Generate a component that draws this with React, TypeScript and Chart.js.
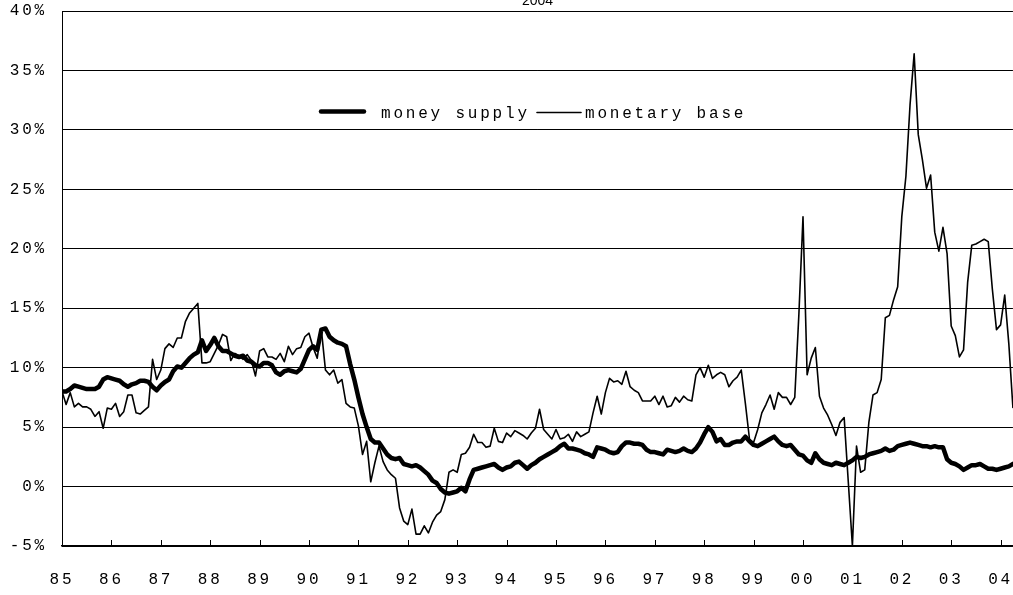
import React, { useEffect, useRef } from 'react';
import { Chart, registerables } from 'chart.js';

Chart.register(...registerables);

const yearLabels = ['85', '86', '87', '88', '89', '90', '91', '92', '93', '94', '95', '96', '97', '98', '99', '00', '01', '02', '03', '04'];

const titleText = '2004';

// monthly, Jan 1985 .. Apr 2004 (% y/y)
const moneySupply = [
  8.0, 8.0, 8.2, 8.5, 8.4, 8.3, 8.2, 8.2, 8.2, 8.4, 9.0, 9.2,
  9.1, 9.0, 8.9, 8.6, 8.4, 8.6, 8.7, 8.9, 8.9, 8.8, 8.4, 8.1,
  8.5, 8.8, 9.0, 9.7, 10.1, 10.0, 10.4, 10.8, 11.1, 11.3, 12.3, 11.4,
  11.9, 12.5, 11.8, 11.4, 11.4, 11.2, 11.0, 10.9, 11.0, 10.6, 10.5, 10.2,
  10.1, 10.4, 10.4, 10.2, 9.6, 9.4, 9.7, 9.8, 9.7, 9.6, 9.9, 10.7,
  11.5, 11.8, 11.5, 13.2, 13.3, 12.6, 12.3, 12.1, 12.0, 11.8, 10.3, 9.0,
  7.5, 6.1, 5.0, 4.0, 3.7, 3.7, 3.2, 2.7, 2.4, 2.3, 2.4, 1.9,
  1.8, 1.7, 1.8, 1.6, 1.3, 1.0, 0.5, 0.3, -0.2, -0.5, -0.6, -0.5,
  -0.4, -0.1, -0.4, 0.6, 1.4, 1.5, 1.6, 1.7, 1.8, 1.9, 1.6, 1.4,
  1.6, 1.7, 2.0, 2.1, 1.8, 1.5, 1.8, 2.0, 2.3, 2.5, 2.7, 2.9,
  3.1, 3.4, 3.6, 3.2, 3.2, 3.1, 3.0, 2.8, 2.7, 2.5, 3.3, 3.2,
  3.1, 2.9, 2.8, 2.9, 3.4, 3.7, 3.7, 3.6, 3.6, 3.5, 3.1, 2.9,
  2.9, 2.8, 2.7, 3.1, 3.0, 2.9, 3.0, 3.2, 3.0, 2.9, 3.2, 3.7,
  4.4, 5.0, 4.6, 3.8, 4.0, 3.5, 3.5, 3.7, 3.8, 3.8, 4.2, 3.8,
  3.5, 3.4, 3.6, 3.8, 4.0, 4.2, 3.8, 3.5, 3.4, 3.5, 3.1, 2.7,
  2.6, 2.2, 2.0, 2.8, 2.3, 2.0, 1.9, 1.8, 2.0, 1.9, 1.8, 2.0,
  2.2, 2.5, 2.4, 2.5, 2.7, 2.8, 2.9, 3.0, 3.2, 3.0, 3.1, 3.4,
  3.5, 3.6, 3.7, 3.6, 3.5, 3.4, 3.4, 3.3, 3.4, 3.3, 3.3, 2.3,
  2.0, 1.9, 1.7, 1.4, 1.6, 1.8, 1.8, 1.9, 1.7, 1.5, 1.5, 1.4,
  1.5, 1.6, 1.7, 1.9,
];

const monetaryBase = [
  8.0, 6.9, 7.9, 6.7, 7.0, 6.7, 6.7, 6.5, 5.9, 6.3, 4.9, 6.6,
  6.5, 7.0, 5.9, 6.3, 7.7, 7.7, 6.2, 6.1, 6.4, 6.7, 10.7, 9.0,
  9.8, 11.6, 12.0, 11.7, 12.5, 12.5, 13.9, 14.6, 15.0, 15.4, 10.4, 10.4,
  10.5, 11.2, 11.9, 12.8, 12.6, 10.6, 11.2, 11.0, 10.7, 11.1, 10.6, 9.3,
  11.4, 11.6, 10.9, 10.9, 10.7, 11.2, 10.5, 11.8, 11.1, 11.6, 11.7, 12.6,
  12.9, 11.7, 10.8, 13.2, 9.8, 9.4, 9.8, 8.7, 9.0, 7.0, 6.7, 6.6,
  5.1, 2.7, 3.8, 0.4, 2.0, 3.4, 2.1, 1.4, 1.0, 0.7, -1.8, -2.9,
  -3.2, -1.9, -4.0, -4.0, -3.3, -3.9, -3.0, -2.4, -2.1, -1.1, 1.2, 1.4,
  1.2, 2.7, 2.8, 3.3, 4.4, 3.7, 3.7, 3.3, 3.4, 4.9, 3.8, 3.7,
  4.5, 4.2, 4.7, 4.5, 4.3, 4.0, 4.5, 4.9, 6.5, 4.8, 4.4, 4.0,
  4.8, 4.0, 4.1, 4.4, 3.8, 4.6, 4.2, 4.4, 4.6, 6.2, 7.6, 6.1,
  7.9, 9.1, 8.8, 8.9, 8.6, 9.7, 8.4, 8.1, 7.9, 7.2, 7.2, 7.2,
  7.6, 6.9, 7.6, 6.7, 6.8, 7.5, 7.1, 7.6, 7.3, 7.2, 9.4, 10.0,
  9.2, 10.2, 9.1, 9.4, 9.6, 9.4, 8.4, 8.9, 9.2, 9.8, 7.0, 4.0,
  3.7, 4.8, 6.2, 6.9, 7.7, 6.5, 7.9, 7.5, 7.5, 6.9, 7.5, 14.5,
  22.7, 9.4, 10.8, 11.7, 7.6, 6.6, 6.0, 5.2, 4.3, 5.4, 5.8, 0.4,
  -5.0, 3.4, 1.2, 1.4, 5.4, 7.7, 7.9, 9.0, 14.2, 14.4, 15.7, 16.8,
  22.7, 26.1, 32.1, 36.4, 29.6, 27.5, 25.1, 26.2, 21.4, 19.8, 21.8, 19.6,
  13.5, 12.7, 10.9, 11.5, 17.2, 20.3, 20.4, 20.6, 20.8, 20.6, 16.6, 13.2,
  13.6, 16.1, 12.0, 6.6,
];

const seriesLabels = ['money supply', 'monetary base'];

const FONT = '"Liberation Mono", "DejaVu Sans Mono", monospace';
const SPACING = '2.8px';

const spacingPlugin = {
  id: 'letterSpacing',
  beforeUpdate(chart: any) {
    chart.ctx.letterSpacing = SPACING;
  },
  beforeDraw(chart: any) {
    chart.ctx.letterSpacing = SPACING;
  },
};

const innerTicksPlugin = {
  id: 'innerTicks',
  afterDatasetsDraw(chart: any) {
    const { ctx, chartArea, scales } = chart;
    const xs = scales.x;
    ctx.save();
    ctx.strokeStyle = '#000';
    ctx.lineWidth = 1;
    ctx.beginPath();
    xs.ticks.forEach((t: any) => {
      const px = Math.round(xs.getPixelForValue(t.value)) + 0.5;
      ctx.moveTo(px, chartArea.bottom);
      ctx.lineTo(px, chartArea.bottom - 6);
    });
    ctx.stroke();
    ctx.restore();
  },
};

const inlineLegendPlugin = {
  id: 'inlineLegend',
  afterDraw(chart: any, _args: any, opts: any) {
    const { ctx } = chart;
    ctx.save();
    ctx.font = `16px ${FONT}`;
    ctx.letterSpacing = SPACING;
    ctx.fillStyle = '#000';
    ctx.textBaseline = 'alphabetic';
    ctx.textAlign = 'left';
    chart.data.datasets.forEach((ds: any, i: number) => {
      const it = opts.items[i];
      ctx.beginPath();
      ctx.lineWidth = ds.borderWidth;
      ctx.strokeStyle = ds.borderColor;
      ctx.lineCap = 'round';
      ctx.moveTo(it.x1, it.y);
      ctx.lineTo(it.x2, it.y);
      ctx.stroke();
      ctx.fillText(ds.label, it.tx, opts.baseline);
    });
    ctx.restore();
  },
};

const cutTitlePlugin = {
  id: 'cutTitle',
  afterDraw(chart: any, _args: any, opts: any) {
    const { ctx, chartArea } = chart;
    ctx.save();
    ctx.letterSpacing = '0px';
    ctx.font = '14px "Liberation Sans", Arial, sans-serif';
    ctx.fillStyle = '#000';
    ctx.textAlign = 'center';
    ctx.textBaseline = 'alphabetic';
    ctx.fillText(opts.text, (chartArea.left + chartArea.right) / 2, opts.baseline);
    ctx.restore();
  },
};

export default function App() {
  const canvasRef = useRef<HTMLCanvasElement | null>(null);

  useEffect(() => {
    if (!canvasRef.current) return;
    const chart = new Chart(canvasRef.current, {
      type: 'line',
      data: {
        datasets: [
          {
            label: seriesLabels[0],
            data: moneySupply.map((y, i) => ({ x: i, y })),
            borderColor: '#000',
            borderWidth: 4.5,
            pointRadius: 0,
            tension: 0,
            fill: false,
            borderJoinStyle: 'round',
            borderCapStyle: 'round',
          },
          {
            label: seriesLabels[1],
            data: monetaryBase.map((y, i) => ({ x: i, y })),
            borderColor: '#000',
            borderWidth: 1.6,
            pointRadius: 0,
            tension: 0,
            fill: false,
            borderJoinStyle: 'round',
          },
        ],
      } as any,
      options: {
        animation: false,
        responsive: false,
        devicePixelRatio: 1,
        events: [],
        layout: { padding: { left: 0, top: 11, right: 0, bottom: 0 } },
        plugins: {
          legend: { display: false },
          tooltip: { enabled: false },
          inlineLegend: {
            baseline: 118,
            items: [
              { x1: 321, x2: 364, y: 111.5, tx: 381 },
              { x1: 537, x2: 581, y: 112.5, tx: 585 },
            ],
          },
          cutTitle: { text: titleText, baseline: 5 },
        } as any,
        scales: {
          x: {
            type: 'linear',
            min: 0,
            max: moneySupply.length - 1,
            afterBuildTicks: (s: any) => {
              s.ticks = yearLabels.map((_, k) => ({ value: k * 12 }));
            },
            afterFit: (s: any) => {
              s.height = 49;
            },
            grid: { drawOnChartArea: false, drawTicks: true, tickLength: 24, tickColor: 'rgba(0,0,0,0)' },
            border: { display: true, color: '#000', width: 1.5 },
            ticks: {
              padding: 0,
              maxRotation: 0,
              autoSkip: false,
              color: '#000',
              font: { family: FONT, size: 16 },
              callback: (v: any) => yearLabels[Math.round(Number(v) / 12)],
            },
          },
          y: {
            min: -5,
            max: 40,
            afterFit: (s: any) => {
              s.width = 62;
            },
            grid: { color: '#000', lineWidth: 1, drawTicks: true, tickLength: 15, tickColor: 'rgba(0,0,0,0)' },
            border: { display: true, color: '#000', width: 1 },
            ticks: {
              stepSize: 5,
              padding: 0,
              color: '#000',
              font: { family: FONT, size: 16 },
              callback: (v: any) => `${v}%`,
            },
          },
        } as any,
      },
      plugins: [spacingPlugin, innerTicksPlugin, inlineLegendPlugin, cutTitlePlugin],
    });
    return () => chart.destroy();
  }, []);

  return (
    <div style={{ position: 'absolute', left: 0, top: 0, width: 1013, height: 595, background: '#fff' }}>
      <canvas ref={canvasRef} width={1013} height={595} style={{ display: 'block' }} />
    </div>
  );
}
